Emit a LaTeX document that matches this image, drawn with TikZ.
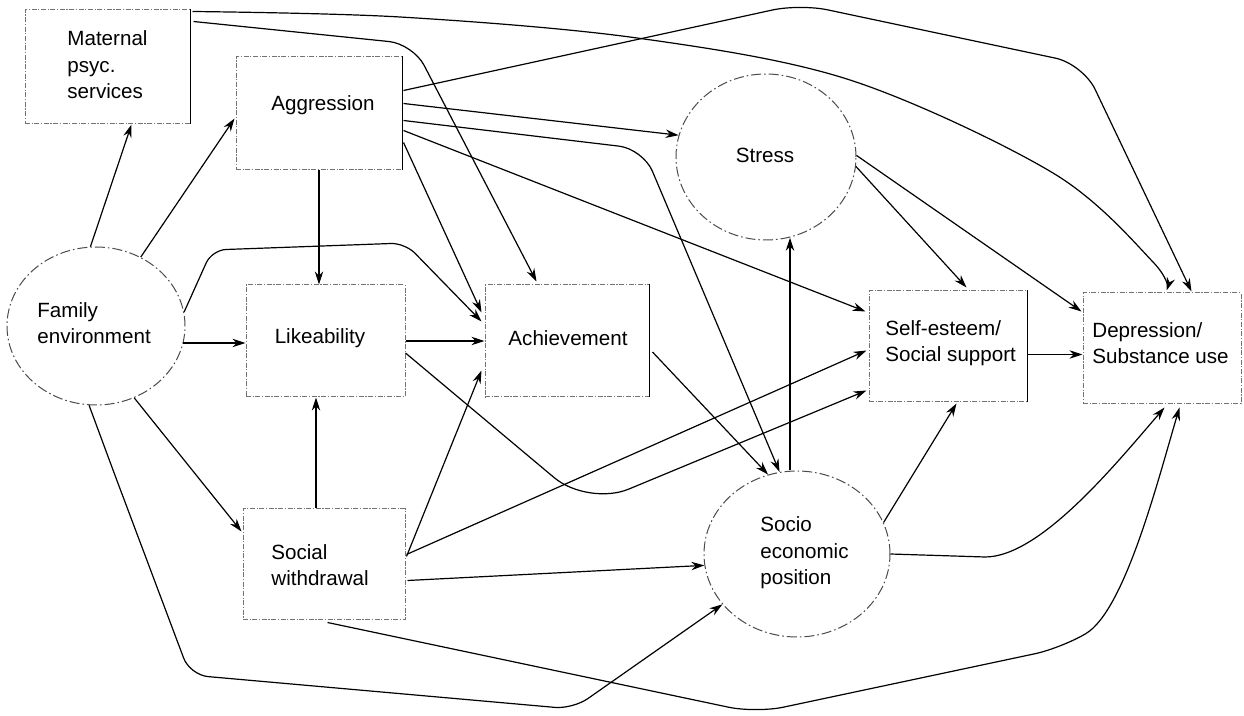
\documentclass[tikz,border=0pt]{standalone}
\usepackage{fontspec}
\setmainfont{Liberation Sans}
\usetikzlibrary{arrows.meta,shapes.geometric,calc,fit}
\begin{document}
\begin{tikzpicture}[x=0.5pt,y=-0.5pt,
  nbox/.style={rectangle, draw=black!55, line width=0.5pt, dash pattern=on 2.5pt off 0.8pt on 0.6pt off 0.8pt, inner sep=0pt},
  noval/.style={ellipse, draw=black!70, line width=0.5pt, dash pattern=on 5pt off 1.5pt on 0.8pt off 1.5pt, inner sep=0pt},
  sideline/.style={line width=0.7pt, black},
  lbl/.style={font=\fontsize{10.3}{13.2}\selectfont, inner sep=0pt, align=left, text=black},
  conn/.style={line width=0.6pt, -{Stealth[length=6.5pt,width=4.2pt]}}]

\useasboundingbox (0,0) rectangle (1244,716);
\fill[white] (0,0) rectangle (1244,716);

% boxes
\node[nbox, fit={(25,10) (190,124)}] (mat) {};
\node[nbox, fit={(236,57) (402,170)}] (agg) {};
\node[nbox, fit={(246,285) (405,397)}] (lik) {};
\node[nbox, fit={(485,285) (649,397)}] (ach) {};
\node[nbox, fit={(869,291) (1027,402)}] (self) {};
\node[nbox, fit={(1083,293) (1241,404)}] (dep) {};
\node[nbox, fit={(243,509) (405,620)}] (sw) {};
% ellipses
\node[noval, minimum width=89pt, minimum height=79pt] (fam) at (96,326) {};
\node[noval, minimum width=90pt, minimum height=83pt] (str) at (766,157) {};
\node[noval, minimum width=93pt, minimum height=83pt] (soc) at (797,554) {};

% solid right sides
\draw[sideline] (mat.north east) -- (mat.south east);
\draw[sideline] (agg.north east) -- (agg.south east);
\draw[sideline] (ach.north east) -- (ach.south east);
\draw[sideline] (self.north east) -- (self.south east);

% labels
\node[lbl, anchor=west] (matT) at (67,65) {Maternal\\psyc.\\services};
\node[lbl] (aggT) at (323,105) {Aggression};
\node[lbl, anchor=west] (famT) at (37,323) {Family\\environment};
\node[lbl] (likT) at (320,338) {Likeability};
\node[lbl] (achT) at (568,338) {Achievement};
\node[lbl] (strT) at (765,155) {Stress};
\node[lbl, anchor=west] (selfT) at (885,343) {Self-esteem/\\Social support};
\node[lbl, anchor=west] (depT) at (1092,343) {Depression/\\Substance use};
\node[lbl, anchor=west] (socT) at (760,553) {Socio\\economic\\position};
\node[lbl, anchor=west] (swT) at (271,565) {Social\\withdrawal};

% helper coordinates
\path (fam.-11) coordinate (f1);
\path ($(soc.north)+(-7,0)$) coordinate (s1);
\path ($(self.east)+(0,8)$) coordinate (se1);
\path ($(sw.north)+(-8,0)$) coordinate (w1);
\path ($(mat.north east)+(2,2)$) coordinate (m1);
\path ($(dep.north west)+(84,-2)$) coordinate (d1);

% family environment
\draw[conn] (fam.94) -- ($(mat.south west)+(107,0)$);
\draw[conn] (fam.57) -- ($(agg.south west)+(-1,-52)$);
\draw[conn] (f1) -- (f1 -| lik.west);
\draw[conn] (fam.-62) -- ($(sw.north west)+(-1,23)$);
\draw[conn, rounded corners=7pt] (fam.9) -- (212,250) -- (405,243) -- ($(ach.north west)+(-3,37)$);
\draw[conn, rounded corners=9pt] (fam.-95) -- (113,470) -- (190,675) -- (573,709) -- (soc.214);

% maternal
\draw[conn, rounded corners=12pt] ($(mat.north east)+(3,12)$) -- (413,44) -- ($(ach.north west)+(52,-3)$);
\draw[conn] plot[smooth, tension=0.55] coordinates {(m1) (400,17) (637,38) (850,80) (1053,173) (1153,262) (d1)};

% aggression
\draw[conn] (agg.south) -- (agg.south |- lik.north);
\draw[conn] ($(agg.north east)+(1,86)$) -- ($(ach.north west)+(-3,28)$);
\draw[conn, rounded corners=14pt] ($(agg.east)+(1,-23)$) -- (800,4) -- (1083,64) -- ($(dep.north west)+(109,-1)$);
\draw[conn] ($(agg.east)+(1,-10)$) -- (str.166);
\draw[conn, rounded corners=12pt] ($(agg.east)+(1,7)$) -- (643,149) -- (soc.102);
\draw[conn] ($(agg.east)+(1,17)$) -- ($(self.north west)+(-3,21)$);

% stress
\draw[conn] (str.-6) -- ($(self.north west)+(98,-3)$);
\draw[conn] (str.1) -- ($(dep.north west)+(-1,19)$);

% socio economic position
\draw[conn] (s1) -- (s1 |- str.-74);
\draw[conn] (soc.20) -- ($(self.south west)+(88,1)$);
\draw[conn] (soc.east) -- (985,557) .. controls (1040,557) and (1115,465) .. ($(dep.south west)+(82,3)$);

% likeability
\draw[conn] (lik.east) -- (ach.west);
\draw[conn, rounded corners=22pt] ($(lik.east)+(0,12)$) -- (588,506) -- ($(self.south west)+(-2,-12)$);

% achievement
\draw[conn] ($(ach.east)+(3,11)$) -- (soc.110);

% self-esteem
\draw[conn] (se1) -- (se1 -| dep.west);

% social withdrawal
\draw[conn] (w1) -- (w1 |- lik.south);
\draw[conn] ($(sw.east)+(1,-8)$) -- ($(ach.south west)+(-3,-27)$);
\draw[conn] ($(sw.east)+(1,-10)$) -- ($(self.west)+(-2,4)$);
\draw[conn] ($(sw.east)+(2,16)$) -- (soc.187);
\draw[conn, rounded corners=14pt] ($(sw.south west)+(85,2)$) -- (756,713) -- (1062,648) .. controls (1125,610) and (1158,480) .. ($(dep.south west)+(97,3)$);

\end{tikzpicture}
\end{document}
